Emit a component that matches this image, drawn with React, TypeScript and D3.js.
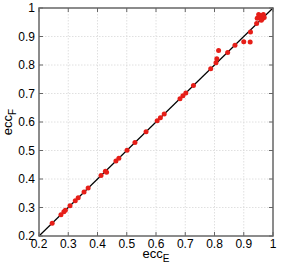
import { useEffect, useRef } from "react"
import * as d3 from "d3"

// eccentricity estimates: E (x) vs F (y)
const eccE = [
  0.245, 0.275, 0.285, 0.29, 0.306, 0.324, 0.334, 0.354, 0.368, 0.412, 0.427, 0.431,
  0.463, 0.473, 0.501, 0.528, 0.566, 0.604, 0.615, 0.628, 0.682, 0.692, 0.702, 0.728,
  0.787, 0.805, 0.808, 0.814, 0.845, 0.87, 0.9, 0.922, 0.923, 0.944, 0.946, 0.951,
  0.953, 0.959, 0.967, 0.97, 0.963, 0.96,
]
const eccF = [
  0.245, 0.275, 0.285, 0.29, 0.306, 0.324, 0.334, 0.354, 0.368, 0.412, 0.427, 0.424,
  0.463, 0.473, 0.501, 0.528, 0.566, 0.604, 0.615, 0.628, 0.682, 0.692, 0.702, 0.728,
  0.787, 0.808, 0.822, 0.851, 0.844, 0.869, 0.882, 0.881, 0.916, 0.946, 0.964, 0.977,
  0.969, 0.973, 0.977, 0.967, 0.961, 0.957,
]
const ticks = [0.2, 0.3, 0.4, 0.5, 0.6, 0.7, 0.8, 0.9, 1]

export default function App() {
  const svgRef = useRef<SVGSVGElement>(null)

  useEffect(() => {
    if (!svgRef.current) return
    const svg = d3.select(svgRef.current)
    svg.selectAll("*").remove()

    const left = 39
    const right = 273
    const top = 8
    const bottom = 236
    const font = "Liberation Sans, Arial, sans-serif"

    const x = d3.scaleLinear().domain([0.2, 1]).range([left, right])
    const y = d3.scaleLinear().domain([0.2, 1]).range([bottom, top])

    svg.append("rect").attr("width", 287).attr("height", 270).attr("fill", "#fff")

    const grid = svg.append("g").attr("stroke", "#d8d8d8").attr("stroke-width", 0.8).attr("stroke-dasharray", "1.5,1.5")
    ticks.slice(1, -1).forEach((t) => {
      grid.append("line").attr("x1", x(t)).attr("x2", x(t)).attr("y1", top).attr("y2", bottom)
      grid.append("line").attr("y1", y(t)).attr("y2", y(t)).attr("x1", left).attr("x2", right)
    })

    // inward ticks on all four sides
    const tk = svg.append("g").attr("stroke", "#666").attr("stroke-width", 1)
    ticks.forEach((t) => {
      tk.append("line").attr("x1", x(t)).attr("x2", x(t)).attr("y1", bottom).attr("y2", bottom - 4)
      tk.append("line").attr("x1", x(t)).attr("x2", x(t)).attr("y1", top).attr("y2", top + 4)
      tk.append("line").attr("y1", y(t)).attr("y2", y(t)).attr("x1", left).attr("x2", left + 4)
      tk.append("line").attr("y1", y(t)).attr("y2", y(t)).attr("x1", right).attr("x2", right - 4)
    })

    svg
      .append("line")
      .attr("x1", x(0.2))
      .attr("y1", y(0.2))
      .attr("x2", x(1))
      .attr("y2", y(1))
      .attr("stroke", "#000")
      .attr("stroke-width", 1.2)

    svg
      .append("g")
      .selectAll("circle")
      .data(eccE)
      .enter()
      .append("circle")
      .attr("cx", (d) => x(d))
      .attr("cy", (_d, i) => y(eccF[i]))
      .attr("r", 2.5)
      .attr("fill", "#e61e18")

    svg
      .append("rect")
      .attr("x", left)
      .attr("y", top)
      .attr("width", right - left)
      .attr("height", bottom - top)
      .attr("fill", "none")
      .attr("stroke", "#666")
      .attr("stroke-width", 1.5)

    const fmt = (t: number) => (t === 1 ? "1" : t.toFixed(1))
    svg
      .append("g")
      .selectAll("text")
      .data(ticks)
      .enter()
      .append("text")
      .attr("x", (d) => x(d))
      .attr("y", bottom + 12)
      .attr("text-anchor", "middle")
      .style("font-family", font)
      .style("font-size", "12px")
      .text(fmt)

    svg
      .append("g")
      .selectAll("text")
      .data(ticks)
      .enter()
      .append("text")
      .attr("x", left - 4)
      .attr("y", (d) => y(d) + 4)
      .attr("text-anchor", "end")
      .style("font-family", font)
      .style("font-size", "12px")
      .text(fmt)

    const xl = svg
      .append("text")
      .attr("x", (left + right) / 2)
      .attr("y", 258)
      .attr("text-anchor", "middle")
      .style("font-family", font)
      .style("font-size", "13px")
    xl.append("tspan").text("ecc")
    xl.append("tspan").attr("dy", 4).style("font-size", "10px").text("E")

    const yl = svg
      .append("text")
      .attr("transform", `translate(12,${(top + bottom) / 2}) rotate(-90)`)
      .attr("text-anchor", "middle")
      .style("font-family", font)
      .style("font-size", "13px")
    yl.append("tspan").text("ecc")
    yl.append("tspan").attr("dy", 4).style("font-size", "10px").text("F")
  }, [])

  return (
    <svg
      ref={svgRef}
      width={287}
      height={270}
      style={{ position: "absolute", left: 0, top: 0, display: "block" }}
    />
  )
}
